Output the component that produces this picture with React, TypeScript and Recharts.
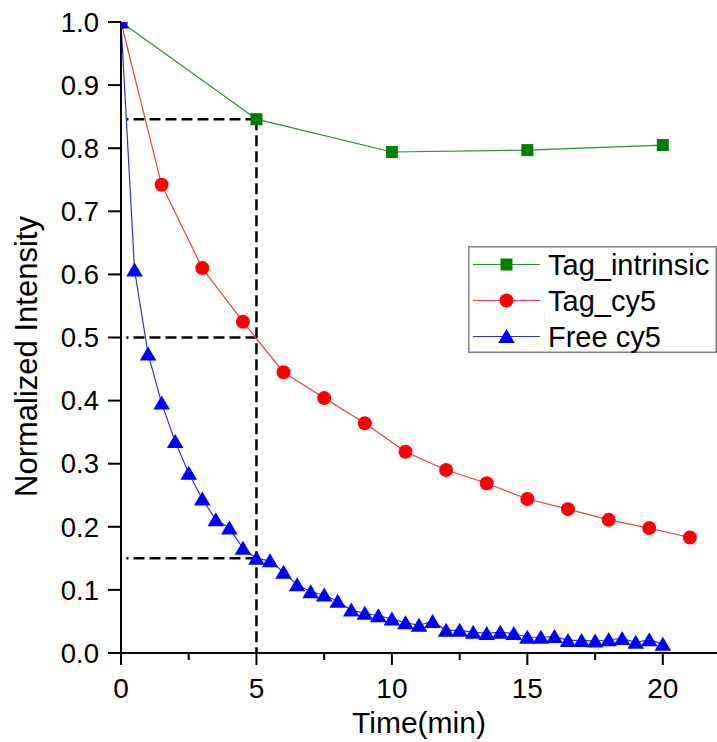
import React from 'react';
import { LineChart, Line, XAxis, YAxis, ReferenceLine, Legend, Label } from 'recharts';

// ---- data ----
const tagIntrinsicTimes = [0, 5, 10, 15, 20];
const tagIntrinsicValues = [1.0, 0.846, 0.794, 0.797, 0.805];

const tagCy5Times = [0, 1.5, 3, 4.5, 6, 7.5, 9, 10.5, 12, 13.5, 15, 16.5, 18, 19.5, 21];
const tagCy5Values = [1.0, 0.742, 0.61, 0.525, 0.445, 0.404, 0.364, 0.319, 0.29, 0.269, 0.244, 0.228, 0.211, 0.198, 0.183];

const freeCy5Times = [0, 0.5, 1, 1.5, 2, 2.5, 3, 3.5, 4, 4.5, 5, 5.5, 6, 6.5, 7, 7.5, 8, 8.5, 9, 9.5, 10, 10.5, 11, 11.5, 12, 12.5, 13, 13.5, 14, 14.5, 15, 15.5, 16, 16.5, 17, 17.5, 18, 18.5, 19, 19.5, 20];
const freeCy5Values = [1.0, 0.607, 0.474, 0.396, 0.335, 0.285, 0.244, 0.211, 0.198, 0.166, 0.15, 0.146, 0.128, 0.108, 0.097, 0.092, 0.082, 0.068, 0.063, 0.059, 0.054, 0.048, 0.044, 0.05, 0.036, 0.036, 0.033, 0.031, 0.033, 0.031, 0.025, 0.025, 0.026, 0.02, 0.02, 0.019, 0.021, 0.023, 0.017, 0.021, 0.014];

const xTicks = [0, 2.5, 5, 7.5, 10, 12.5, 15, 17.5, 20];
const xMajorTicks = [0, 5, 10, 15, 20];
const yTicks = [0, 0.1, 0.2, 0.3, 0.4, 0.5, 0.6, 0.7, 0.8, 0.9, 1.0];

// guide lines (time, intensity)
const guideTime = 5;
const guideLevels = [0.846, 0.5, 0.15];
const guideStart = 0.2;

const seriesNames = ['Tag_intrinsic', 'Tag_cy5', 'Free cy5'];

const toPoints = (xs: number[], ys: number[]) => xs.map((x, i) => ({ x, y: ys[i] }));
const tagIntrinsicData = toPoints(tagIntrinsicTimes, tagIntrinsicValues);
const tagCy5Data = toPoints(tagCy5Times, tagCy5Values);
const freeCy5Data = toPoints(freeCy5Times, freeCy5Values);

const FONT = '"Liberation Sans", Arial, Helvetica, sans-serif';

type Kind = 'square' | 'circle' | 'triangle';

const markerShape = (kind: Kind, cx: number, cy: number, color: string, props: any = {}) => {
  if (kind === 'square') return <rect x={cx - 6} y={cy - 6} width={12} height={12} fill={color} {...props} />;
  if (kind === 'circle') return <circle cx={cx} cy={cy} r={7} fill={color} {...props} />;
  return (
    <polygon
      points={`${cx},${cy - 7.5} ${cx + 8.3},${cy + 6.5} ${cx - 8.3},${cy + 6.5}`}
      fill={color}
      {...props}
    />
  );
};

const makeDot = (kind: Kind, color: string) => (p: any) => {
  const { cx, cy, index, payload } = p;
  const key = `${kind}-${index}`;
  if (cx == null || cy == null) return <g key={key} />;
  if (payload && payload.x === 0) {
    const id = `clip-${kind}-${index}`;
    return (
      <g key={key}>
        <clipPath id={id}>
          <rect x={cx} y={cy} width={20} height={20} />
        </clipPath>
        {markerShape(kind, cx, cy, color, { clipPath: `url(#${id})` })}
      </g>
    );
  }
  return <g key={key}>{markerShape(kind, cx, cy, color)}</g>;
};

const XTick = (p: any) => {
  const { x, y, payload } = p;
  const v = payload.value;
  const major = xMajorTicks.includes(v);
  return (
    <g>
      <line x1={x} y1={y} x2={x} y2={y + (major ? 12 : 7)} stroke="#000" strokeWidth={2} />
      {major && (
        <text x={x} y={y + 45} textAnchor="middle" fontSize={28} fill="#000" fontFamily={FONT}>
          {v}
        </text>
      )}
    </g>
  );
};

const legendRows: { name: string; kind: Kind; marker: string; line: string }[] = [
  { name: seriesNames[0], kind: 'square', marker: '#008000', line: '#2e8b2e' },
  { name: seriesNames[1], kind: 'circle', marker: '#ff0000', line: '#e04040' },
  { name: seriesNames[2], kind: 'triangle', marker: '#0000ff', line: '#3030d8' },
];

const LegendBox = () => (
  <svg width={249} height={107} style={{ display: 'block', overflow: 'visible' }}>
    <rect x={0.75} y={0.75} width={247.5} height={105.5} fill="#fff" stroke="#808080" strokeWidth={1.5} />
    {legendRows.map((r, i) => {
      const cy = 18.5 + i * 36;
      return (
        <g key={r.name}>
          <line x1={5} y1={cy} x2={72} y2={cy} stroke={r.line} strokeWidth={1.2} />
          {markerShape(r.kind, 38.5, cy, r.marker)}
          <text x={80} y={cy + 10.3} fontSize={29} fill="#000" fontFamily={FONT}>
            {r.name}
          </text>
        </g>
      );
    })}
  </svg>
);

const YTitle = (p: any) => {
  const vb = p.viewBox || { x: 0, y: 22, width: 121, height: 631 };
  const cx = vb.x + 37;
  const cy = vb.y + vb.height / 2 + 19;
  return (
    <text x={cx} y={cy} transform={`rotate(-90 ${cx} ${cy})`} textAnchor="middle" fontSize={31} fill="#000" fontFamily={FONT}>
      Normalized Intensity
    </text>
  );
};

const XTitle = (p: any) => {
  const vb = p.viewBox || { x: 121, y: 653, width: 596, height: 89 };
  const cx = vb.x + vb.width / 2;
  const cy = vb.y + 80;
  return (
    <text x={cx} y={cy} textAnchor="middle" fontSize={30} fill="#000" fontFamily={FONT}>
      Time(min)
    </text>
  );
};

export default function App() {
  return (
    <div style={{ position: 'absolute', left: 0, top: 0, width: 717, height: 742, background: '#fff' }}>
      <LineChart
        width={717}
        height={742}
        margin={{ top: 22, right: 0, bottom: 0, left: 0 }}
        style={{ fontFamily: FONT }}
      >
        <XAxis
          dataKey="x"
          type="number"
          domain={[0, 22]}
          ticks={xTicks}
          interval={0}
          height={89}
          tickSize={0}
          tickMargin={0}
          tickLine={false}
          tick={<XTick />}
          axisLine={{ stroke: '#000', strokeWidth: 2 }}
          allowDuplicatedCategory={false}
        >
          <Label content={<XTitle />} />
        </XAxis>
        <YAxis
          type="number"
          domain={[0, 1]}
          ticks={yTicks}
          interval={0}
          width={121}
          tickSize={13}
          tickMargin={9}
          tickLine={{ stroke: '#000', strokeWidth: 2 }}
          axisLine={{ stroke: '#000', strokeWidth: 2 }}
          tick={{ fill: '#000', fontSize: 27.5, fontFamily: FONT }}
          tickFormatter={(v: number) => v.toFixed(1)}
        >
          <Label content={<YTitle />} />
        </YAxis>

        {guideLevels.map((lv) => (
          <ReferenceLine
            key={`h-${lv}`}
            segment={[{ x: guideTime, y: lv }, { x: guideStart, y: lv }]}
            stroke="#000"
            strokeWidth={2.5}
            strokeDasharray="11 5"
          />
        ))}
        <ReferenceLine
          segment={[{ x: guideTime, y: guideLevels[0] }, { x: guideTime, y: 0 }]}
          stroke="#000"
          strokeWidth={2.5}
          strokeDasharray="11 5"
        />

        <Line
          data={tagIntrinsicData}
          dataKey="y"
          name={seriesNames[0]}
          type="linear"
          stroke="#2e8b2e"
          strokeWidth={1.2}
          dot={makeDot('square', '#008000')}
          activeDot={false}
          isAnimationActive={false}
        />
        <Line
          data={tagCy5Data}
          dataKey="y"
          name={seriesNames[1]}
          type="linear"
          stroke="#e04040"
          strokeWidth={1.2}
          dot={makeDot('circle', '#ff0000')}
          activeDot={false}
          isAnimationActive={false}
        />
        <Line
          data={freeCy5Data}
          dataKey="y"
          name={seriesNames[2]}
          type="linear"
          stroke="#3030d8"
          strokeWidth={1.2}
          dot={makeDot('triangle', '#0000ff')}
          activeDot={false}
          isAnimationActive={false}
        />

        <Legend
          layout="vertical"
          align="center"
          verticalAlign="middle"
          content={<LegendBox />}
          wrapperStyle={{ left: 468, top: 246, width: 249, height: 107 }}
        />
      </LineChart>
    </div>
  );
}
